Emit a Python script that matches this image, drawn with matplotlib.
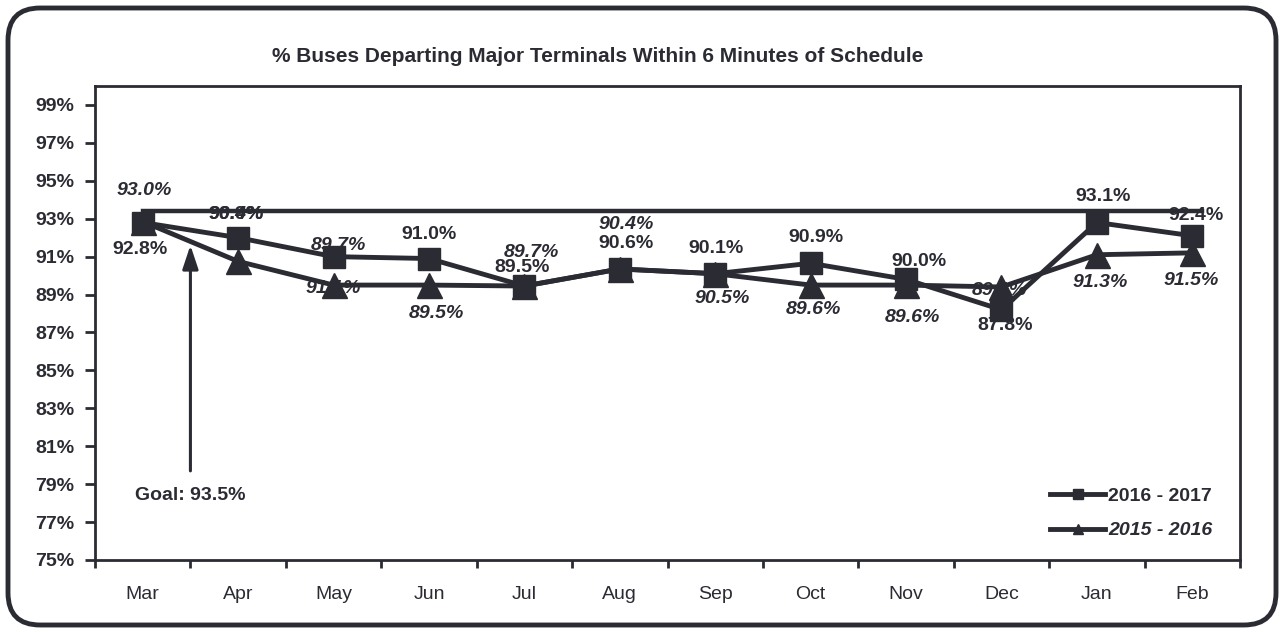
import matplotlib
matplotlib.use("Agg")
import matplotlib.pyplot as plt
from matplotlib.lines import Line2D
from matplotlib.patches import FancyBboxPatch

plt.rcParams['font.family'] = ['Liberation Sans', 'DejaVu Sans']

# ---- data ----
months = ["Mar", "Apr", "May", "Jun", "Jul", "Aug", "Sep", "Oct", "Nov", "Dec", "Jan", "Feb"]
s2016_17 = [92.8, 92.0, 91.0, 90.9, 89.45, 90.35, 90.1, 90.65, 89.8, 88.2, 92.8, 92.1]
s2015_16 = [92.85, 90.75, 89.5, 89.5, 89.45, 90.35, 90.1, 89.5, 89.5, 89.4, 91.1, 91.2]
goal = 93.4
goal_label = "Goal: 93.5%"
yticks = list(range(75, 100, 2))
title = "% Buses Departing Major Terminals Within 6 Minutes of Schedule"

# data labels as printed on the chart: (text, x, y)
labels_2016_17 = [("92.8%", -0.03, 91.39), ("90.9%", 0.98, 93.24), ("91.0%", 3.0, 92.16),
                  ("89.5%", 3.98, 90.45), ("90.6%", 5.06, 91.68), ("90.1%", 6.01, 91.43),
                  ("90.9%", 7.06, 92.03), ("90.0%", 8.14, 90.74), ("87.8%", 9.04, 87.38),
                  ("93.1%", 10.07, 94.16), ("92.4%", 11.04, 93.18)]
labels_2015_16 = [("93.0%", 0.02, 94.51), ("90.4%", 0.98, 93.24), ("89.7%", 2.05, 91.6),
                  ("91.1%", 2.0, 89.32), ("89.5%", 3.08, 87.98), ("89.7%", 4.07, 91.24),
                  ("90.4%", 5.07, 92.68), ("90.5%", 6.07, 88.8), ("89.6%", 7.03, 88.19),
                  ("89.6%", 8.07, 87.78), ("89.1%", 8.98, 89.23), ("91.3%", 10.03, 89.62),
                  ("91.5%", 10.99, 89.75)]

C = '#2b2c33'
FS = 14

fig = plt.figure(figsize=(12.84, 6.32), dpi=100)
fig.patch.set_facecolor('white')

# outer rounded frame
frame = FancyBboxPatch((8 / 1284, 7 / 632), 1268 / 1284, 617 / 632,
                       boxstyle="round,pad=0,rounding_size=0.025",
                       transform=fig.transFigure, fill=False, lw=3.5, ec=C,
                       mutation_aspect=1284 / 632)
fig.patches.append(frame)

ax = fig.add_axes([95 / 1284, 1 - 560 / 632, 1145 / 1284, 474 / 632])
x = list(range(len(months)))

ax.plot([0, 11.1], [goal, goal], color=C, lw=3.2, zorder=3)
ax.plot(x, s2016_17, color=C, lw=3.5, marker='s', ms=15.5, zorder=4)
ax.plot(x, s2015_16, color=C, lw=3.5, marker='^', ms=18, zorder=4)

for t, xx, yy in labels_2016_17:
    ax.text(xx, yy, t, ha='center', va='center', fontsize=FS, fontweight='bold', color=C, zorder=3.5)
for t, xx, yy in labels_2015_16:
    ax.text(xx, yy, t, ha='center', va='center', fontsize=FS, fontweight='bold',
            fontstyle='italic', color=C, zorder=3.5)

# goal arrow
ax.annotate('', xy=(0.5, 91.6), xytext=(0.5, 79.7),
            arrowprops=dict(arrowstyle='-|>,head_length=0.9,head_width=0.3', lw=2.2, color=C,
                            mutation_scale=16, shrinkA=0, shrinkB=0), zorder=3)
ax.text(0.5, 78.4, goal_label, ha='center', va='center', fontsize=FS, fontweight='bold', color=C)

ax.set_xlim(-0.5, 11.5)
ax.set_ylim(75, 100)
ax.set_yticks(yticks)
ax.set_yticklabels([f"{v}%" for v in yticks], fontsize=FS, fontweight='bold', color=C)
ax.set_xticks(x)
ax.set_xticklabels(months, fontsize=FS, color=C)
ax.set_xticks([i - 0.5 for i in range(13)], minor=True)
ax.tick_params(axis='x', which='major', length=0, pad=19)
ax.tick_params(axis='x', which='minor', length=6, width=2, color=C, direction='out')
ax.tick_params(axis='y', length=7, width=2, color=C, direction='out', pad=8)
for sp in ax.spines.values():
    sp.set_linewidth(2)
    sp.set_color(C)

fig.text(598 / 1284, 1 - 57 / 632, title, ha='center', va='center', fontsize=15,
         fontweight='bold', color=C)

handles = [Line2D([], [], color=C, lw=3.5, marker='s', ms=7),
           Line2D([], [], color=C, lw=3.5, marker='^', ms=7)]
leg = ax.legend(handles, ["2016 - 2017", "2015 - 2016"], loc='center left',
                bbox_to_anchor=(0.826, 0.098), frameon=False, handlelength=2.8,
                handletextpad=0.15, labelspacing=0.85, borderpad=0,
                prop=dict(size=FS, weight='bold'))
for txt in leg.get_texts():
    txt.set_color(C)
leg.get_texts()[1].set_fontstyle('italic')

fig.savefig('out.png', dpi=100, facecolor='white')
